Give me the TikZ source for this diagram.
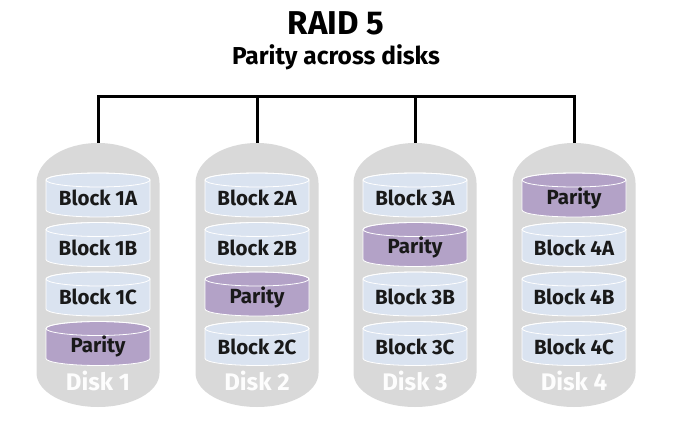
\documentclass[tikz,border=0pt]{standalone}
\usepackage{fontspec}
\setmainfont{Fira Sans}
\definecolor{diskgray}{HTML}{D9D9D9}
\definecolor{blkblue}{HTML}{DAE3F0}
\definecolor{parpurple}{HTML}{B3A2C7}
\tikzset{
  diskbody/.style={fill=diskgray},
  blkfill/.style={draw=white, line width=0.8pt},
  blktext/.style={font=\fontsize{20.5}{22}\selectfont\bfseries, text=black!90, inner sep=0pt},
  disklabel/.style={font=\fontsize{24}{26}\selectfont\bfseries, text=white!95!diskgray, inner sep=0pt},
  bus/.style={line width=3pt, black, line join=miter},
}
% #1 name, #2 x, #3 y, #4 fill, #5 text
\newcommand\mycyl[5]{%
  \fill[blkfill, fill=#4] (#2-52pt,#3+15pt) -- (#2-52pt,#3-15pt)
    arc[start angle=180, end angle=360, x radius=52pt, y radius=7pt]
    -- (#2+52pt,#3+15pt)
    arc[start angle=0, end angle=180, x radius=52pt, y radius=7pt] -- cycle;
  \draw[white, line width=0.8pt] (#2,#3+15pt) ellipse[x radius=52pt, y radius=7pt];
  \node[blktext] (#1) at (#2,#3-3pt) {#5};
}
% #1 name, #2 x, #3 label
\newcommand\mydisk[3]{%
  \fill[diskbody] (#2-61.5pt,-183pt) -- (#2-61.5pt,-373pt)
    arc[start angle=180, end angle=360, x radius=61.5pt, y radius=34pt]
    -- (#2+61.5pt,-183pt)
    arc[start angle=0, end angle=180, x radius=61.5pt, y radius=40pt] -- cycle;
  \coordinate (#1top) at (#2,-143pt);
  \node[disklabel] (#1lab) at (#2,-381pt) {#3};
}
\begin{document}
\begin{tikzpicture}
\useasboundingbox (0,0) rectangle (673pt,-428pt);
\node[font=\fontsize{33}{36}\selectfont\bfseries, inner sep=0pt] (title) at (336pt,-23pt) {RAID 5};
\node[font=\fontsize{24.5}{27}\selectfont\bfseries, inner sep=0pt] (subtitle) at (336pt,-57pt) {Parity across disks};

\mydisk{d1}{98pt}{Disk 1}
\mydisk{d2}{257pt}{Disk 2}
\mydisk{d3}{415pt}{Disk 3}
\mydisk{d4}{574pt}{Disk 4}

\coordinate (bar) at (0,-97pt);
\draw[bus] (d1top) -- (d1top |- bar) -- (d4top |- bar) -- (d4top);
\draw[bus] (d2top) -- (d2top |- bar);
\draw[bus] (d3top) -- (d3top |- bar);

\mycyl{b1a}{98pt}{-195pt}{blkblue}{Block 1A}
\mycyl{b1b}{98pt}{-244.5pt}{blkblue}{Block 1B}
\mycyl{b1c}{98pt}{-294pt}{blkblue}{Block 1C}
\mycyl{p1}{98pt}{-343.5pt}{parpurple}{Parity}

\mycyl{b2a}{257pt}{-195pt}{blkblue}{Block 2A}
\mycyl{b2b}{257pt}{-244.5pt}{blkblue}{Block 2B}
\mycyl{p2}{257pt}{-294pt}{parpurple}{Parity}
\mycyl{b2c}{257pt}{-343.5pt}{blkblue}{Block 2C}

\mycyl{b3a}{415pt}{-195pt}{blkblue}{Block 3A}
\mycyl{p3}{415pt}{-244.5pt}{parpurple}{Parity}
\mycyl{b3b}{415pt}{-294pt}{blkblue}{Block 3B}
\mycyl{b3c}{415pt}{-343.5pt}{blkblue}{Block 3C}

\mycyl{p4}{574pt}{-195pt}{parpurple}{Parity}
\mycyl{b4a}{574pt}{-244.5pt}{blkblue}{Block 4A}
\mycyl{b4b}{574pt}{-294pt}{blkblue}{Block 4B}
\mycyl{b4c}{574pt}{-343.5pt}{blkblue}{Block 4C}
\end{tikzpicture}
\end{document}
